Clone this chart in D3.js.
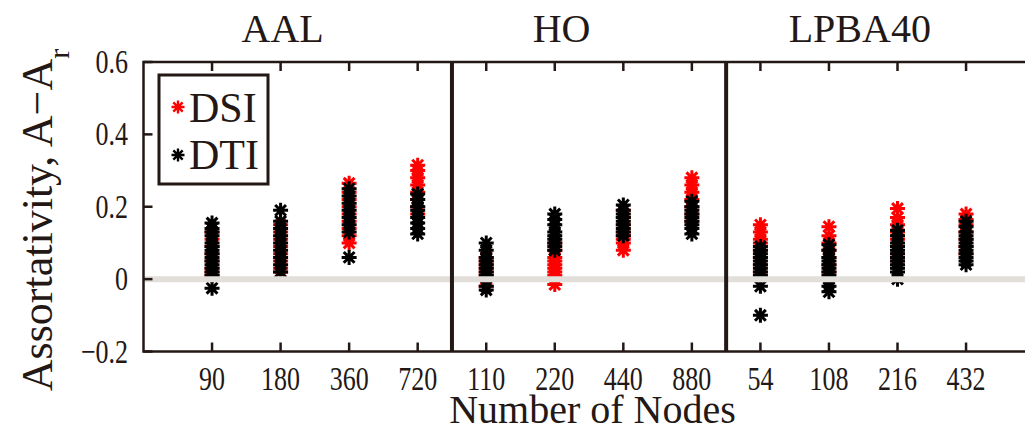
<!DOCTYPE html>
<html>
<head>
<meta charset="utf-8">
<script src="https://cdn.jsdelivr.net/npm/d3@7"></script>
<style>
body { margin: 0; background: #fff; }
text { font-family: "Liberation Serif", "DejaVu Serif", serif; fill: #231815; }
</style>
</head>
<body>
<script>
// tick labels along x, atlas names on top
var tickLabels = ["90", "180", "360", "720", "110", "220", "440", "880", "54", "108", "216", "432"];
var atlases = ["AAL", "HO", "LPBA40"];
var atlasCenters = [2.03, 6.1, 10.45];
var dividers = [4.5, 8.5];
var yTicks = [-0.2, 0, 0.2, 0.4, 0.6];

// assortativity values, one list per column
var dsi = [
  [0.13, 0.11, 0.09, 0.07, 0.05, 0.03, 0.02, 0.01],
  [0.15, 0.13, 0.11, 0.09, 0.07, 0.05, 0.03, 0.02],
  [0.265, 0.24, 0.22, 0.2, 0.18, 0.16, 0.14, 0.12, 0.1],
  [0.315, 0.3, 0.28, 0.26, 0.24, 0.22, 0.2, 0.18],
  [0.06, 0.05, 0.04, 0.03, 0.02, 0.01, 0.0, -0.02],
  [0.1, 0.08, 0.06, 0.05, 0.04, 0.03, 0.02, 0.01, 0.0, -0.015],
  [0.19, 0.17, 0.15, 0.13, 0.12, 0.11, 0.1, 0.08],
  [0.28, 0.26, 0.24, 0.22, 0.2, 0.18, 0.16],
  [0.15, 0.13, 0.11, 0.1, 0.08, 0.06, 0.04, 0.02],
  [0.145, 0.12, 0.1, 0.08, 0.06, 0.04, 0.02],
  [0.195, 0.17, 0.15, 0.13, 0.11, 0.09, 0.07, 0.05],
  [0.18, 0.165, 0.15, 0.13, 0.11, 0.09, 0.07]
];
var dti = [
  [0.155, 0.14, 0.13, 0.12, 0.1, 0.09, 0.08, 0.07, 0.06, 0.05, 0.04, 0.03, 0.02, 0.01, -0.025],
  [0.19, 0.16, 0.14, 0.12, 0.1, 0.08, 0.06, 0.04, 0.02],
  [0.25, 0.23, 0.21, 0.19, 0.17, 0.15, 0.13, 0.06],
  [0.235, 0.22, 0.2, 0.19, 0.17, 0.155, 0.14, 0.125],
  [0.1, 0.08, 0.06, 0.05, 0.04, 0.03, 0.02, 0.01, -0.02, -0.03],
  [0.18, 0.165, 0.15, 0.13, 0.12, 0.11, 0.1, 0.09, 0.08],
  [0.205, 0.19, 0.18, 0.17, 0.16, 0.15, 0.14, 0.13, 0.12],
  [0.215, 0.2, 0.19, 0.18, 0.17, 0.16, 0.15, 0.14, 0.125],
  [0.09, 0.08, 0.07, 0.06, 0.05, 0.04, 0.03, 0.02, 0.01, -0.02, -0.1],
  [0.095, 0.08, 0.06, 0.05, 0.04, 0.03, 0.02, 0.01, 0.0, -0.02, -0.035],
  [0.135, 0.12, 0.1, 0.09, 0.08, 0.07, 0.06, 0.05, 0.04, 0.03, 0.02, 0.0],
  [0.16, 0.145, 0.13, 0.12, 0.11, 0.1, 0.09, 0.08, 0.07, 0.06, 0.05, 0.04]
];

var w = 1025, h = 430;
var ink = "#231815";

var svg = d3.select("body").append("svg")
    .attr("width", w)
    .attr("height", h);

var x = d3.scaleLinear().domain([0, 13]).range([143.5, 1034.6]);
var y = d3.scaleLinear().domain([-0.2, 0.6]).range([351.5, 62]);

// 8 armed star like matlab's '*'
function star(r) {
    var d = r * 0.72;
    return "M0," + (-r) + "L0," + r + "M" + (-r) + ",0L" + r + ",0" +
        "M" + (-d) + "," + (-d) + "L" + d + "," + d +
        "M" + (-d) + "," + d + "L" + d + "," + (-d);
}

function flat(sets) {
    var out = [];
    sets.forEach(function(vals, i) {
        vals.forEach(function(v) { out.push({i: i + 1, v: v}); });
    });
    return out;
}

var plot = svg.append("g");

plot.selectAll("path.dsi")
    .data(flat(dsi))
    .enter()
    .append("path")
    .attr("class", "dsi")
    .attr("d", star(7.5))
    .attr("transform", function(d) { return "translate(" + x(d.i) + "," + y(d.v) + ")"; })
    .attr("stroke", "#ff0000")
    .attr("stroke-width", 3)
    .attr("fill", "none");

plot.selectAll("path.dti")
    .data(flat(dti))
    .enter()
    .append("path")
    .attr("class", "dti")
    .attr("d", star(7.5))
    .attr("transform", function(d) { return "translate(" + x(d.i) + "," + y(d.v) + ")"; })
    .attr("stroke", "#000")
    .attr("stroke-width", 3)
    .attr("fill", "none");

// zero line over the markers
svg.append("line")
    .attr("x1", x(0)).attr("x2", x(13))
    .attr("y1", y(0)).attr("y2", y(0))
    .attr("stroke", "#e2dfda")
    .attr("stroke-width", 6);

// frame
svg.append("rect")
    .attr("x", x(0)).attr("y", y(0.6))
    .attr("width", x(13) - x(0))
    .attr("height", y(-0.2) - y(0.6))
    .attr("fill", "none")
    .attr("stroke", ink)
    .attr("stroke-width", 2.5);

// ticks pointing inward
var tk = 9;
var cols = d3.range(1, 13);
svg.selectAll("line.bt").data(cols).enter().append("line")
    .attr("x1", function(d) { return x(d); }).attr("x2", function(d) { return x(d); })
    .attr("y1", y(-0.2)).attr("y2", y(-0.2) - tk)
    .attr("stroke", ink).attr("stroke-width", 2.5);
svg.selectAll("line.tt").data(cols).enter().append("line")
    .attr("x1", function(d) { return x(d); }).attr("x2", function(d) { return x(d); })
    .attr("y1", y(0.6)).attr("y2", y(0.6) + tk)
    .attr("stroke", ink).attr("stroke-width", 2.5);
svg.selectAll("line.lt").data(yTicks).enter().append("line")
    .attr("x1", x(0)).attr("x2", x(0) + tk)
    .attr("y1", function(d) { return y(d); }).attr("y2", function(d) { return y(d); })
    .attr("stroke", ink).attr("stroke-width", 2.5);
svg.selectAll("line.rt").data(yTicks).enter().append("line")
    .attr("x1", x(13)).attr("x2", x(13) - tk)
    .attr("y1", function(d) { return y(d); }).attr("y2", function(d) { return y(d); })
    .attr("stroke", ink).attr("stroke-width", 2.5);

// atlas separators
svg.selectAll("line.div").data(dividers).enter().append("line")
    .attr("x1", function(d) { return x(d); }).attr("x2", function(d) { return x(d); })
    .attr("y1", y(0.6)).attr("y2", y(-0.2))
    .attr("stroke", ink).attr("stroke-width", 4);

// tick labels, a bit taller than wide like the original
svg.selectAll("text.xl").data(tickLabels).enter().append("text")
    .attr("transform", function(d, i) { return "translate(" + x(i + 1) + ",390) scale(1,1.3)"; })
    .attr("text-anchor", "middle")
    .attr("font-size", 26)
    .text(function(d) { return d; });

svg.selectAll("text.yl").data(yTicks).enter().append("text")
    .attr("transform", function(d) { return "translate(128," + (y(d) + 11) + ") scale(1,1.3)"; })
    .attr("text-anchor", "end")
    .attr("font-size", 26)
    .text(function(d) { return d === 0 ? "0" : d3.format(".1f")(d).replace("-", "\u2212"); });

// atlas titles
svg.selectAll("text.at").data(atlases).enter().append("text")
    .attr("x", function(d, i) { return x(atlasCenters[i]); })
    .attr("y", 42)
    .attr("text-anchor", "middle")
    .attr("font-size", 40)
    .text(function(d) { return d; });

svg.append("text")
    .attr("x", x(6.55))
    .attr("y", 423)
    .attr("text-anchor", "middle")
    .attr("font-size", 40)
    .text("Number of Nodes");

var yl = svg.append("text")
    .attr("transform", "translate(52,220) rotate(-90)")
    .attr("text-anchor", "middle")
    .attr("font-size", 44);
yl.append("tspan").text("Assortativity, A\u2212A");
yl.append("tspan").attr("baseline-shift", "sub").attr("font-size", 30).text("r");

// legend
var lg = svg.append("g");
lg.append("rect")
    .attr("x", 159).attr("y", 75)
    .attr("width", 109).attr("height", 109)
    .attr("fill", "#fff")
    .attr("stroke", ink)
    .attr("stroke-width", 3);
var series = [{name: "DSI", color: "#ff0000"}, {name: "DTI", color: "#000"}];
series.forEach(function(s, i) {
    lg.append("path")
        .attr("d", star(6.5))
        .attr("transform", "translate(178," + (107 + i * 48) + ")")
        .attr("stroke", s.color)
        .attr("stroke-width", 2.4)
        .attr("fill", "none");
    lg.append("text")
        .attr("x", 189)
        .attr("y", 122 + i * 47)
        .attr("font-size", 42)
        .text(s.name);
});
</script>
</body>
</html>
